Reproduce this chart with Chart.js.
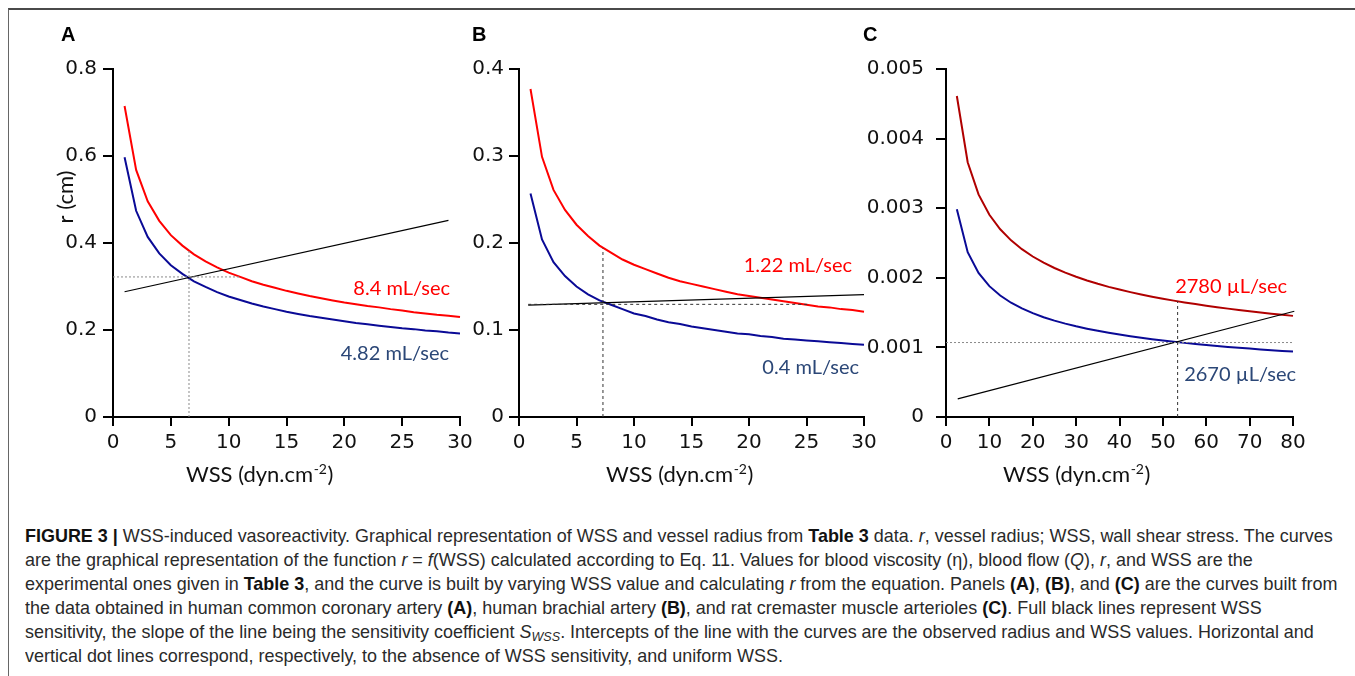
<!DOCTYPE html>
<html><head><meta charset="utf-8">
<script src="https://cdn.jsdelivr.net/npm/chart.js@4.4.1/dist/chart.umd.min.js"></script>
<style>
html,body{margin:0;padding:0;background:#fff;}
body{width:1355px;height:676px;position:relative;overflow:hidden;}
#frame{position:absolute;left:8px;top:8px;width:1347px;height:668px;border-top:2px solid #4a4a4a;border-left:1px solid #666;}
canvas{position:absolute;left:0;top:0;}
#caption{position:absolute;left:25px;top:524px;font-family:"Liberation Sans",Arial,sans-serif;font-size:19px;line-height:24px;color:#2a2a2a;transform-origin:0 0;}
#caption .ln{white-space:nowrap;}
#caption b{color:#111;}
#caption sub{font-size:0.7em;vertical-align:-0.25em;line-height:0;}
</style></head>
<body>
<div id="frame"></div>
<canvas id="cA" width="1355" height="500" style="width:1355px;height:500px"></canvas>
<canvas id="cB" width="1355" height="500" style="width:1355px;height:500px"></canvas>
<canvas id="cC" width="1355" height="500" style="width:1355px;height:500px"></canvas>
<div id="caption">
<div class="ln" id="ln1"><b>FIGURE 3 |</b> WSS-induced vasoreactivity. Graphical representation of WSS and vessel radius from <b>Table 3</b> data. <i>r</i>, vessel radius; WSS, wall shear stress. The curves</div>
<div class="ln">are the graphical representation of the function <i>r</i> = <i>f</i>(WSS) calculated according to Eq. 11. Values for blood viscosity (η), blood flow (<i>Q</i>), <i>r</i>, and WSS are the</div>
<div class="ln">experimental ones given in <b>Table 3</b>, and the curve is built by varying WSS value and calculating <i>r</i> from the equation. Panels <b>(A)</b>, <b>(B)</b>, and <b>(C)</b> are the curves built from</div>
<div class="ln">the data obtained in human common coronary artery <b>(A)</b>, human brachial artery <b>(B)</b>, and rat cremaster muscle arterioles <b>(C)</b>. Full black lines represent WSS</div>
<div class="ln">sensitivity, the slope of the line being the sensitivity coefficient <i>S<sub>WSS</sub></i>. Intercepts of the line with the curves are the observed radius and WSS values. Horizontal and</div>
<div class="ln">vertical dot lines correspond, respectively, to the absence of WSS sensitivity, and uniform WSS.</div>
</div>
<script>
// ---------- DATA ----------
const wssA = [1,2,3,4,5,6,7,8,9,10,11,12,13,14,15,16,17,18,19,20,21,22,23,24,25,26,27,28,29,30];
const redA = [0.715,0.568,0.496,0.451,0.418,0.394,0.374,0.358,0.344,0.332,0.322,0.312,0.304,0.297,0.290,0.284,0.278,0.273,0.268,0.263,0.259,0.255,0.252,0.248,0.245,0.241,0.238,0.235,0.233,0.230];
const blueA = [0.597,0.474,0.414,0.376,0.349,0.329,0.312,0.299,0.287,0.277,0.269,0.261,0.254,0.248,0.242,0.237,0.232,0.228,0.224,0.220,0.216,0.213,0.210,0.207,0.204,0.202,0.199,0.197,0.194,0.192];
const sensAx = [1, 29];
const sensAy = [0.288, 0.452];
const hRefAx = [0, 10.9];
const hRefAy = [0.322, 0.322];
const vRefAx = [6.57, 6.57];
const vRefAy = [0, 0.382];
const xTicksA = [0,5,10,15,20,25,30];
const yTicksA = [0,0.2,0.4,0.6,0.8];
const yLabelsA = ['0','0.2','0.4','0.6','0.8'];

const wssB = [1,2,3,4,5,6,7,8,9,10,11,12,13,14,15,16,17,18,19,20,21,22,23,24,25,26,27,28,29,30];
const redB = [0.377,0.299,0.261,0.238,0.221,0.208,0.197,0.189,0.181,0.175,0.170,0.165,0.160,0.156,0.153,0.150,0.147,0.144,0.141,0.139,0.137,0.135,0.133,0.131,0.129,0.127,0.126,0.124,0.123,0.121];
const blueB = [0.257,0.204,0.178,0.162,0.150,0.141,0.134,0.129,0.124,0.119,0.116,0.112,0.109,0.107,0.104,0.102,0.100,0.098,0.096,0.095,0.093,0.092,0.090,0.089,0.088,0.087,0.086,0.085,0.084,0.083];
const sensBx = [0.8, 30];
const sensBy = [0.1287, 0.1406];
const hRefBx = [0.8, 25.3];
const hRefBy = [0.1295, 0.1295];
const vRefBx = [7.3, 7.3];
const vRefBy = [0, 0.194];
const xTicksB = [0,5,10,15,20,25,30];
const yTicksB = [0,0.1,0.2,0.3,0.4];
const yLabelsB = ['0','0.1','0.2','0.3','0.4'];

const wssC = [2.5,5,7.5,10,12.5,15,17.5,20,22.5,25,27.5,30,32.5,35,37.5,40,42.5,45,47.5,50,52.5,55,57.5,60,62.5,65,67.5,70,72.5,75,77.5,80];
const redC = [0.004612,0.003661,0.003198,0.002906,0.002697,0.002538,0.002411,0.002306,0.002217,0.002141,0.002074,0.002015,0.001962,0.001914,0.001870,0.001831,0.001794,0.001760,0.001729,0.001699,0.001672,0.001646,0.001622,0.001599,0.001577,0.001557,0.001537,0.001519,0.001501,0.001484,0.001468,0.001453];
const blueC = [0.002984,0.002368,0.002069,0.001880,0.001745,0.001642,0.001560,0.001492,0.001434,0.001385,0.001342,0.001303,0.001269,0.001238,0.001210,0.001184,0.001160,0.001139,0.001118,0.001099,0.001082,0.001065,0.001049,0.001035,0.001021,0.001007,0.000995,0.000983,0.000971,0.000960,0.000950,0.000940];
const sensCx = [2.7, 80.3];
const sensCy = [0.00026, 0.00152];
const hRefCx = [0, 80];
const hRefCy = [0.00107, 0.00107];
const vRefCx = [53.4, 53.4];
const vRefCy = [0, 0.00166];
const xTicksC = [0,10,20,30,40,50,60,70,80];
const yTicksC = [0,0.001,0.002,0.003,0.004,0.005];
const yLabelsC = ['0','0.001','0.002','0.003','0.004','0.005'];

// ---------- HELPERS ----------
const pts = (xs, ys) => xs.map((x, i) => ({x: x, y: ys[i]}));
const TICK_FONT = {family: 'DejaVu Sans', size: 20};
const TITLE_FAMILY = 'Lato, "Open Sans", sans-serif';

function lineDS(xs, ys, color, width, dash) {
  return {data: pts(xs, ys), borderColor: color, borderWidth: width, borderDash: dash || [],
          pointRadius: 0, tension: 0, fill: false, clip: false};
}

function drawXTitle(ctx, x, y) {
  ctx.fillStyle = '#111';
  ctx.textAlign = 'left';
  ctx.textBaseline = 'alphabetic';
  ctx.font = '22px ' + TITLE_FAMILY;
  const a = 'WSS (dyn.cm';
  ctx.fillText(a, x, y);
  let w = ctx.measureText(a).width;
  ctx.font = '14px ' + TITLE_FAMILY;
  ctx.fillText('-2', x + w + 0.5, y - 8);
  w += ctx.measureText('-2').width + 1;
  ctx.font = '22px ' + TITLE_FAMILY;
  ctx.fillText(')', x + w, y);
}

function drawLabel(ctx, txt, xr, y, color) {
  ctx.fillStyle = color;
  ctx.font = '20px ' + TITLE_FAMILY;
  ctx.textAlign = 'right';
  ctx.textBaseline = 'alphabetic';
  ctx.fillText(txt, xr, y);
}

function drawLetter(ctx, txt, x, y) {
  ctx.fillStyle = '#000';
  ctx.font = 'bold 20px "Liberation Sans", Arial, sans-serif';
  ctx.textAlign = 'left';
  ctx.textBaseline = 'alphabetic';
  ctx.fillText(txt, x, y);
}

function makeChart(id, area, xmax, xTicks, ymax, yTicks, yLabels, yPad, datasets, drawTexts) {
  const YW = 95, XH = 50;
  const axisGrid = (tl) => ({display: true, drawOnChartArea: false, drawTicks: true, tickLength: tl, color: '#000', lineWidth: 2});
  return new Chart(document.getElementById(id), {
    type: 'line',
    data: {datasets: datasets},
    options: {
      responsive: false, animation: false, devicePixelRatio: 1, events: [],
      layout: {padding: {left: area.L - YW, right: 1355 - area.R, top: area.T, bottom: 500 - area.B - XH}},
      plugins: {legend: {display: false}, tooltip: {enabled: false}},
      scales: {
        x: {type: 'linear', min: 0, max: xmax,
            afterFit: s => { s.height = XH; },
            afterBuildTicks: s => { s.ticks = xTicks.map(v => ({value: v})); },
            ticks: {font: TICK_FONT, color: '#111', padding: 5, maxRotation: 0, autoSkip: false, callback: v => String(v)},
            grid: axisGrid(9), border: {display: true, color: '#000', width: 2}},
        y: {type: 'linear', min: 0, max: ymax,
            afterFit: s => { s.width = YW; },
            afterBuildTicks: s => { s.ticks = yTicks.map(v => ({value: v})); },
            ticks: {font: TICK_FONT, color: '#111', padding: yPad, autoSkip: false, callback: (v, i) => yLabels[i]},
            grid: axisGrid(10), border: {display: true, color: '#000', width: 2}}
      }
    },
    plugins: [{id: 'texts' + id, afterDraw: chart => { const c = chart.ctx; c.save(); drawTexts(c); c.restore(); }}]
  });
}

const RED = '#ff0000', DARKRED = '#b00000', BLUE = '#0a0a96', LBLUE = '#2b4777', BLACK = '#000', GREY = '#8a8a8a';

// Panel A
makeChart('cA', {L: 113, R: 460, T: 69, B: 417}, 30, xTicksA, 0.8, yTicksA, yLabelsA, 6, [
  lineDS(hRefAx, hRefAy, GREY, 1, [2, 2]),
  lineDS(vRefAx, vRefAy, GREY, 1, [2, 2]),
  lineDS(sensAx, sensAy, BLACK, 1.2),
  lineDS(wssA, redA, RED, 2),
  lineDS(wssA, blueA, BLUE, 2)
], ctx => {
  drawLetter(ctx, 'A', 61, 41);
  drawXTitle(ctx, 186, 482);
  drawLabel(ctx, '8.4 mL/sec', 450, 295, RED);
  drawLabel(ctx, '4.82 mL/sec', 449, 360, LBLUE);
  ctx.save();
  ctx.translate(73, 197);
  ctx.rotate(-Math.PI / 2);
  ctx.fillStyle = '#111';
  ctx.font = '22px ' + TITLE_FAMILY;
  ctx.textAlign = 'center';
  ctx.textBaseline = 'alphabetic';
  ctx.fillText('r (cm)', 0, 0);
  ctx.restore();
});

// Panel B
makeChart('cB', {L: 519, R: 864, T: 69, B: 417}, 30, xTicksB, 0.4, yTicksB, yLabelsB, 5, [
  lineDS(hRefBx, hRefBy, '#333', 1, [3, 3]),
  lineDS(vRefBx, vRefBy, '#333', 1, [3, 3]),
  lineDS(sensBx, sensBy, BLACK, 1.2),
  lineDS(wssB, redB, RED, 2),
  lineDS(wssB, blueB, BLUE, 2)
], ctx => {
  drawLetter(ctx, 'B', 472, 41);
  drawXTitle(ctx, 606, 482);
  drawLabel(ctx, '1.22 mL/sec', 852, 272, RED);
  drawLabel(ctx, '0.4 mL/sec', 859, 374, LBLUE);
});

// Panel C
makeChart('cC', {L: 946, R: 1293, T: 69, B: 417}, 80, xTicksC, 0.005, yTicksC, yLabelsC, 12, [
  lineDS(hRefCx, hRefCy, GREY, 1, [2, 2]),
  lineDS(vRefCx, vRefCy, '#333', 1, [3, 3]),
  lineDS(sensCx, sensCy, BLACK, 1.2),
  lineDS(wssC, redC, DARKRED, 2),
  lineDS(wssC, blueC, BLUE, 2)
], ctx => {
  drawLetter(ctx, 'C', 863, 41);
  drawXTitle(ctx, 1003, 482);
  drawLabel(ctx, '2780 \u00b5L/sec', 1287, 293, RED);
  drawLabel(ctx, '2670 \u00b5L/sec', 1296, 381, LBLUE);
});

// caption width fit
(function () {
  const cap = document.getElementById('caption');
  const l1 = document.getElementById('ln1');
  const w = l1.scrollWidth;
  if (w > 0) cap.style.transform = 'scaleX(' + (1312 / w) + ')';
})();
</script>
</body></html>
